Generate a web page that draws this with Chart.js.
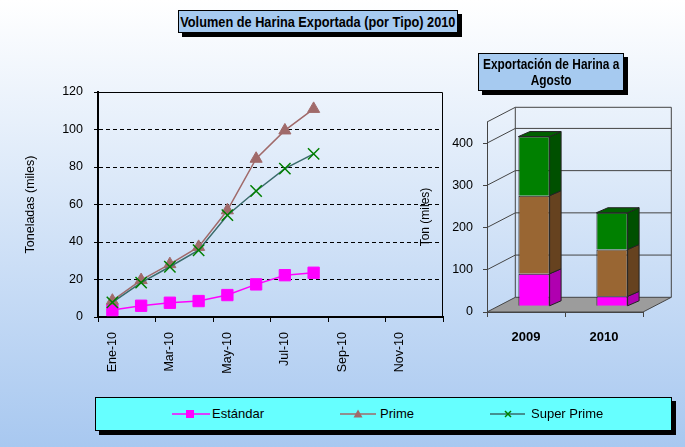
<!DOCTYPE html>
<html>
<head>
<meta charset="utf-8">
<script src="https://cdn.jsdelivr.net/npm/chart.js@4/dist/chart.umd.min.js"></script>
<style>
html,body{margin:0;padding:0;}
body{width:685px;height:447px;overflow:hidden;position:relative;background:linear-gradient(to bottom,#ffffff 0%,#a8c8f0 100%);font-family:"Liberation Sans",Arial,sans-serif;}
.tbox{position:absolute;background:#a6caf0;border:1px solid #000;box-shadow:4px 4px 0 #000;box-sizing:border-box;display:flex;align-items:center;justify-content:center;text-align:center;font-weight:bold;color:#000;}
.tbox span{display:inline-block;transform:scaleX(0.85);white-space:nowrap;}
#t1{left:178px;top:10px;width:280px;height:23px;font-size:15px;}
#t2{left:478px;top:53px;width:146px;height:38px;font-size:14px;line-height:16.5px;}
#legend{position:absolute;left:95px;top:397px;width:577px;height:34px;background:#66ffff;border:1px solid #000;box-sizing:border-box;box-shadow:4px 4px 0 #000;}
#legend svg{position:absolute;top:10px;}
#legend .lt{position:absolute;top:8px;font-size:13px;line-height:16px;color:#000;white-space:nowrap;}
canvas{position:absolute;}
#c1{left:0;top:40px;}
#c2{left:400px;top:40px;}
</style>
</head>
<body>
<canvas id="c1" width="460" height="355"></canvas>
<canvas id="c2" width="285" height="355"></canvas>
<div class="tbox" id="t1"><span>Volumen de Harina Exportada (por Tipo) 2010</span></div>
<div class="tbox" id="t2"><span>Exportación de Harina a<br>Agosto</span></div>
<div id="legend">
  <svg style="left:76px" width="38" height="12"><line x1="0" y1="6" x2="38" y2="6" stroke="#ff00ff" stroke-width="1.5"/><rect x="14" y="2" width="8" height="8" fill="#ff00ff"/></svg>
  <span class="lt" style="left:116px">Estándar</span>
  <svg style="left:244px" width="36" height="12"><line x1="0" y1="6" x2="36" y2="6" stroke="#a06a6a" stroke-width="1.5"/><polygon points="18,1.5 22.5,9.5 13.5,9.5" fill="#a06a6a"/></svg>
  <span class="lt" style="left:284px">Prime</span>
  <svg style="left:394px" width="35" height="12"><line x1="0" y1="6" x2="35" y2="6" stroke="#3a6b6b" stroke-width="1.5"/><line x1="15" y1="3" x2="21" y2="9" stroke="#008000" stroke-width="1.5"/><line x1="21" y1="3" x2="15" y2="9" stroke="#008000" stroke-width="1.5"/></svg>
  <span class="lt" style="left:435px">Super Prime</span>
</div>
<script>
// ---- Data ----
const meses = ['Ene-10','Feb-10','Mar-10','Abr-10','May-10','Jun-10','Jul-10','Ago-10','Sep-10','Oct-10','Nov-10','Dic-10'];
const estandar   = [3.7, 6.0, 7.6, 8.5, 11.7, 17.4, 22.3, 23.6];
const prime      = [8.7, 19.7, 28.2, 37.4, 56.9, 84.4, 99.5, 111.0];
const superPrime = [7.8, 18.3, 26.8, 35.6, 54.3, 67.2, 79.1, 87.0];
const yTicksLinea = [0, 20, 40, 60, 80, 100, 120];

const anios = ['2009', '2010'];
const estandarAnual   = [77, 23.6];
const primeAnual      = [185, 111.0];
const superPrimeAnual = [140, 87.0];
const yTicksBarra = [0, 100, 200, 300, 400];

Chart.defaults.font.family = "'Liberation Sans', Arial, sans-serif";
Chart.defaults.color = '#000';

// ---- Left line chart ----
const frameLeft = {
  id: 'frameLeft',
  beforeDatasetsDraw(chart) {
    const {ctx, chartArea: a} = chart;
    ctx.save();
    ctx.strokeStyle = '#000';
    ctx.lineWidth = 1;
    ctx.beginPath();
    ctx.moveTo(a.left, a.top + 0.5);
    ctx.lineTo(a.right - 0.5, a.top + 0.5);
    ctx.lineTo(a.right - 0.5, a.bottom);
    ctx.stroke();
    ctx.restore();
  }
};

new Chart(document.getElementById('c1'), {
  type: 'line',
  data: {
    labels: meses,
    datasets: [
      {label: 'Estándar', data: estandar, borderColor: '#ff00ff', backgroundColor: '#ff00ff',
       pointBackgroundColor: '#ff00ff', pointBorderColor: '#ff00ff', pointStyle: 'rect',
       pointRadius: 8, pointBorderWidth: 1, borderWidth: 1.5, order: 3},
      {label: 'Prime', data: prime, borderColor: '#a06a6a', backgroundColor: '#a06a6a',
       pointBackgroundColor: '#a06a6a', pointBorderColor: '#a06a6a', pointStyle: 'triangle',
       pointRadius: 7, pointBorderWidth: 1, borderWidth: 1.5, order: 2},
      {label: 'Super Prime', data: superPrime, borderColor: '#3a6b6b', backgroundColor: '#008000',
       pointBackgroundColor: '#008000', pointBorderColor: '#008000', pointStyle: 'crossRot',
       pointRadius: 8, pointBorderWidth: 1.5, borderWidth: 1.5, order: 1}
    ]
  },
  options: {
    responsive: false, animation: false, devicePixelRatio: 1,
    layout: {padding: {left: 0, top: 52, right: 17, bottom: 18}},
    plugins: {legend: {display: false}, tooltip: {enabled: false}},
    scales: {
      x: {
        offset: true,
        grid: {offset: true, drawOnChartArea: false, drawTicks: true, tickLength: 5,
               tickColor: c => (c.type !== 'tick' || c.index % 2 === 0) ? '#000' : 'rgba(0,0,0,0)'},
        border: {display: true, color: '#000', width: 2},
        ticks: {autoSkip: false, maxRotation: 90, minRotation: 90, padding: 10, font: {size: 12.5},
                callback: function(v, i) { return i % 2 === 0 ? this.getLabelForValue(v) : ''; }},
        afterFit: s => { s.height = 60; }
      },
      y: {
        min: 0, max: 120,
        afterBuildTicks: s => { s.ticks = yTicksLinea.map(v => ({value: v})); },
        ticks: {padding: 11, font: {size: 12.5}},
        grid: {color: c => (c.tick && (c.tick.value === 0 || c.tick.value === 120)) ? 'rgba(0,0,0,0)' : '#000',
               tickColor: '#000', tickLength: 4, lineWidth: 1},
        border: {display: true, color: '#000', width: 2, dash: [4, 3]},
        title: {display: true, text: 'Toneladas (miles)', font: {size: 12.5}, padding: {top: 23, bottom: 0}},
        afterFit: s => { s.width = 98; }
      }
    }
  },
  plugins: [frameLeft]
});

// ---- Right 3D stacked bar chart ----
const WDX = 28.3, WDY = 14.7;   // wall depth
const TX = 8, TY = -5.7;        // bar front-plane offset
const BDX = 11.5, BDY = 5;      // bar depth
const sideColors = ['#b000b0', '#66421f', '#005000'];
const topColor = '#006000';

function poly(ctx, pts, fill, stroke) {
  ctx.beginPath();
  ctx.moveTo(pts[0][0], pts[0][1]);
  for (let i = 1; i < pts.length; i++) ctx.lineTo(pts[i][0], pts[i][1]);
  ctx.closePath();
  if (fill) { ctx.fillStyle = fill; ctx.fill(); }
  if (stroke) { ctx.strokeStyle = stroke; ctx.lineWidth = 1; ctx.stroke(); }
}

const walls3d = {
  id: 'walls3d',
  beforeDatasetsDraw(chart) {
    const {ctx, chartArea: a} = chart;
    const ys = chart.scales.y;
    ctx.save();
    // floor
    poly(ctx, [[a.left, a.bottom], [a.right, a.bottom], [a.right + WDX, a.bottom - WDY], [a.left + WDX, a.bottom - WDY]], '#9c9c9c', '#444');
    // wall gridlines
    ctx.strokeStyle = '#444';
    ctx.lineWidth = 1;
    [100, 200, 300, 400, 450].forEach(v => {
      const yf = ys.getPixelForValue(v);
      ctx.beginPath();
      ctx.moveTo(a.left, yf);
      ctx.lineTo(a.left + WDX, yf - WDY);
      ctx.lineTo(a.right + WDX, yf - WDY);
      ctx.stroke();
    });
    const yTop = ys.getPixelForValue(450);
    ctx.beginPath();
    ctx.moveTo(a.left + WDX, yTop - WDY); ctx.lineTo(a.left + WDX, a.bottom - WDY);
    ctx.moveTo(a.right + WDX, yTop - WDY); ctx.lineTo(a.right + WDX, a.bottom - WDY);
    ctx.stroke();
    ctx.restore();
    ctx.save();
    ctx.translate(TX, TY);
  },
  afterDatasetsDraw(chart) {
    const {ctx} = chart;
    ctx.restore();
    ctx.save();
    const n = chart.data.datasets.length;
    for (let d = 0; d < n; d++) {
      const meta = chart.getDatasetMeta(d);
      meta.data.forEach(el => {
        const p = el.getProps(['x', 'y', 'base', 'width'], true);
        const l = p.x - p.width / 2 + TX, r = p.x + p.width / 2 + TX;
        const t = p.y + TY, b = p.base + TY;
        poly(ctx, [[r, t], [r + BDX, t - BDY], [r + BDX, b - BDY], [r, b]], sideColors[d], '#222');
        if (d === n - 1) {
          poly(ctx, [[l, t], [l + BDX, t - BDY], [r + BDX, t - BDY], [r, t]], topColor, '#222');
        }
      });
    }
    ctx.restore();
  }
};

new Chart(document.getElementById('c2'), {
  type: 'bar',
  data: {
    labels: anios,
    datasets: [
      {label: 'Estándar', data: estandarAnual, backgroundColor: '#ff00ff', borderColor: '#222', borderWidth: 1},
      {label: 'Prime', data: primeAnual, backgroundColor: '#996633', borderColor: '#222', borderWidth: 1},
      {label: 'Super Prime', data: superPrimeAnual, backgroundColor: '#008000', borderColor: '#222', borderWidth: 1}
    ]
  },
  options: {
    responsive: false, animation: false, devicePixelRatio: 1,
    layout: {padding: {left: 0, top: 82, right: 42, bottom: 33}},
    plugins: {legend: {display: false}, tooltip: {enabled: false}},
    datasets: {bar: {categoryPercentage: 1, barPercentage: 0.4}},
    scales: {
      x: {
        stacked: true,
        grid: {offset: true, drawOnChartArea: false, tickLength: 5, tickColor: '#444'},
        border: {display: true, color: '#444', width: 1},
        ticks: {font: {size: 13, weight: 'bold'}, padding: 13},
        afterFit: s => { s.height = 50; }
      },
      y: {
        stacked: true, min: 0, max: 450,
        afterBuildTicks: s => { s.ticks = yTicksBarra.map(v => ({value: v})); },
        ticks: {padding: 10, font: {size: 12.5}},
        grid: {drawOnChartArea: false, tickLength: 4, tickColor: '#444'},
        border: {display: true, color: '#444', width: 1},
        title: {display: true, text: 'Ton (miles)', font: {size: 12}, padding: {top: 18, bottom: 0}},
        afterFit: s => { s.width = 87; }
      }
    }
  },
  plugins: [walls3d]
});
</script>
</body>
</html>
